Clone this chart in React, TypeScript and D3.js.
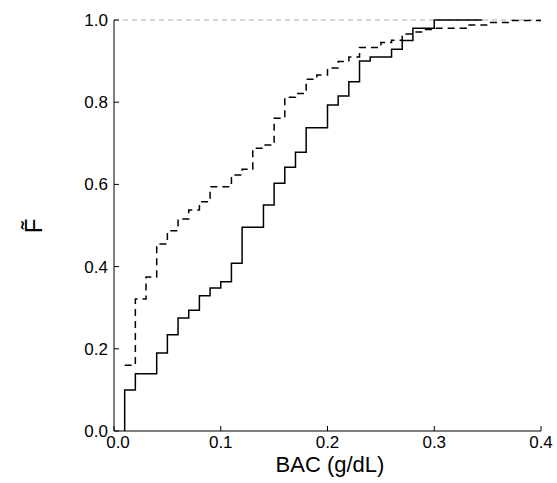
import React from "react";
import * as d3 from "d3";

const solidX = [0.01,0.02,0.04,0.05,0.06,0.07,0.08,0.09,0.10,0.11,0.12,0.14,0.15,0.16,0.17,0.18,0.20,0.21,0.22,0.23,0.24,0.26,0.27,0.28,0.30,0.345];
const solidF = [0.10,0.139,0.19,0.234,0.275,0.294,0.329,0.348,0.363,0.408,0.496,0.55,0.603,0.642,0.678,0.738,0.793,0.815,0.85,0.90,0.91,0.929,0.95,0.98,1.0,1.0];
const dashX = [0.01,0.02,0.03,0.04,0.05,0.06,0.07,0.08,0.09,0.11,0.12,0.13,0.14,0.15,0.16,0.17,0.18,0.19,0.20,0.21,0.22,0.23,0.25,0.26,0.27,0.28,0.29,0.30,0.33,0.35,0.37,0.40];
const dashF = [0.16,0.321,0.375,0.455,0.487,0.516,0.538,0.558,0.594,0.623,0.637,0.688,0.696,0.761,0.812,0.821,0.856,0.866,0.883,0.899,0.91,0.933,0.945,0.951,0.966,0.971,0.977,0.98,0.988,0.994,0.999,0.999];
const xTicks = [0, 0.1, 0.2, 0.3, 0.4];
const yTicks = [0, 0.2, 0.4, 0.6, 0.8, 1.0];

export default function App() {
  const x = d3.scaleLinear().domain([0, 0.4]).range([114, 541]);
  const y = d3.scaleLinear().domain([0, 1]).range([431, 20]);
  const line = d3.line<[number, number]>().x(d => x(d[0])).y(d => y(d[1])).curve(d3.curveStepAfter);
  const sPts: [number, number][] = [[solidX[0], 0], ...solidX.map((v, i) => [v, solidF[i]] as [number, number])];
  const dPts: [number, number][] = dashX.map((v, i) => [v, dashF[i]] as [number, number]);
  const font = "Arial, 'Liberation Sans', sans-serif";
  return (
    <svg width={557} height={483} style={{ position: "absolute", left: 0, top: 0, background: "#fff" }}>
      <line x1={x(0)} x2={x(0.4)} y1={y(1)} y2={y(1)} stroke="#aaa" strokeDasharray="5,4" />
      <path d={line(sPts) || ""} fill="none" stroke="#000" strokeWidth={1.5} />
      <path d={line(dPts) || ""} fill="none" stroke="#000" strokeWidth={1.5} strokeDasharray="7,5" />
      <line x1={x(0)} x2={x(0)} y1={y(0)} y2={y(1)} stroke="#000" />
      <line x1={x(0)} x2={x(0.4)} y1={y(0)} y2={y(0)} stroke="#000" />
      {xTicks.map(t => (
        <g key={"x" + t}>
          <line x1={x(t)} x2={x(t)} y1={y(0)} y2={y(0) - 5} stroke="#000" />
          <text x={x(t) + (t === 0 ? 4 : 0)} y={y(0) + 17} textAnchor="middle" fontFamily={font} fontSize={17}>{t.toFixed(1)}</text>
        </g>
      ))}
      {yTicks.map(t => (
        <g key={"y" + t}>
          <line x1={x(0)} x2={x(0) + 5} y1={y(t)} y2={y(t)} stroke="#000" />
          <text x={x(0) - 6} y={y(t) + 6} textAnchor="end" fontFamily={font} fontSize={17}>{t.toFixed(1)}</text>
        </g>
      ))}
      <text x={330} y={472} textAnchor="middle" fontFamily={font} fontSize={22}>BAC (g/dL)</text>
      <text transform="translate(42,226) rotate(-90)" textAnchor="middle" fontFamily={font} fontSize={24}>F̃</text>
    </svg>
  );
}
